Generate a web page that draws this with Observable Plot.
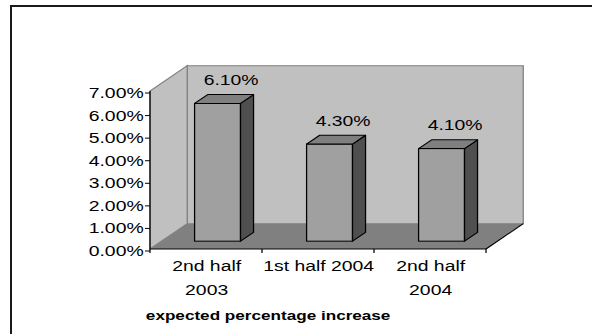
<!DOCTYPE html>
<html><head><meta charset="utf-8">
<script src="https://cdn.jsdelivr.net/npm/d3@7"></script>
<script src="https://cdn.jsdelivr.net/npm/@observablehq/plot@0.6"></script>
<style>
html,body{margin:0;padding:0;background:#fff;overflow:hidden}
#wrap{position:relative;width:592px;height:334px;overflow:hidden}
#border{position:absolute;left:10px;top:4.5px;width:700px;height:500px;border-left:2px solid #1a1a1a;border-top:2px solid #1a1a1a}
#chart{position:absolute;left:0;top:0}
</style>
</head><body><div id="wrap"><div id="border"></div><div id="chart"></div></div>
<script>
// ---- data ----
const categories = ["2nd half 2003", "1st half 2004", "2nd half 2004"];
const tickLabels = ["2nd half\n2003", "1st half 2004", "2nd half\n2004"];
const values = [0.061, 0.043, 0.041];
const yTicks = [0, 0.01, 0.02, 0.03, 0.04, 0.05, 0.06, 0.07];
const title = "expected percentage increase";

const data = categories.map((c, i) => ({category: c, value: values[i], label: tickLabels[i]}));

// ---- layout / styling constants ----
const W = 592, H = 334, STRETCH = 1.25, IW = W / STRETCH;
const DX = 29.8, DY = -25.3;      // full 3D depth offset (px, internal)
const F0 = 0.31, F1 = 0.66;       // bar front/back depth fractions
const FONT = "Liberation Sans, Arial, Helvetica, sans-serif";

const pathOf = pts => "M" + pts.map(p => p[0] + "," + p[1]).join("L") + "Z";

// walls, floor, axis line, category ticks
function scene(index, {x, y}) {
  const g = d3.create("svg:g");
  const [x0, x1] = x.range();
  const yb = y(0), yt = y(yTicks[yTicks.length - 1]);
  const step = x.step();
  g.append("path").attr("d", pathOf([[x0 + DX, yt + DY], [x1 + DX, yt + DY], [x1 + DX, yb + DY], [x0 + DX, yb + DY]]))
    .attr("fill", "#c0c0c0").attr("stroke", "#808080");
  g.append("path").attr("d", pathOf([[x0, yb], [x0, yt], [x0 + DX, yt + DY], [x0 + DX, yb + DY]]))
    .attr("fill", "#c0c0c0").attr("stroke", "#808080");
  g.append("path").attr("d", pathOf([[x0, yb], [x1, yb], [x1 + DX, yb + DY], [x0 + DX, yb + DY]]))
    .attr("fill", "#808080").attr("stroke", "none");
  const ln = (a, b, c, d) => g.append("line").attr("x1", a).attr("y1", b).attr("x2", c).attr("y2", d)
    .attr("stroke", "#000").attr("stroke-width", 1);
  ln(x0, yb, x1, yb);
  ln(x1, yb, x1 + DX, yb + DY);
  ln(x0, yb, x0, yt);
  for (let i = 0; i <= categories.length; ++i) ln(x0 + i * step, yb, x0 + i * step, yb + 4);
  return g.node();
}

// bar sides and tops
function barDepth(index, {x, y}) {
  const g = d3.create("svg:g");
  const bw = x.bandwidth();
  const ddx = (F1 - F0) * DX, ddy = (F1 - F0) * DY;
  categories.forEach((c, i) => {
    const xl = x(c) + F0 * DX, xr = xl + bw;
    const yt = y(values[i]) + F0 * DY, y0 = y(0) + F0 * DY;
    g.append("path").attr("d", pathOf([[xr, yt], [xr + ddx, yt + ddy], [xr + ddx, y0 + ddy], [xr, y0]]))
      .attr("fill", "#4f4f4f").attr("stroke", "#000").attr("stroke-linejoin", "round");
    g.append("path").attr("d", pathOf([[xl, yt], [xr, yt], [xr + ddx, yt + ddy], [xl + ddx, yt + ddy]]))
      .attr("fill", "#7f7f7f").attr("stroke", "#000").attr("stroke-linejoin", "round");
  });
  return g.node();
}

const svg = Plot.plot({
  width: IW, height: H,
  marginLeft: 120, marginRight: IW - 388.8, marginTop: 91, marginBottom: 85,
  style: {fontFamily: FONT, fontSize: "15.5px", color: "#000", background: "transparent"},
  x: {type: "band", domain: categories, paddingInner: 0.59, paddingOuter: 0.295, round: false, axis: null},
  y: {domain: [0, 0.07], axis: null, label: null},
  marks: [
    scene,
    Plot.barY(data, {x: "category", y: "value", fill: "#a0a0a0", stroke: "#000", strokeWidth: 1,
      dx: F0 * DX, dy: F0 * DY}),
    barDepth,
    Plot.axisY(yTicks, {tickFormat: d3.format(".2%"), tickSize: 4, tickPadding: 1.6, fontSize: 15.5,
      stroke: "#000", fill: "#000", dy: 1.5, label: null}),
    Plot.text(data, {x: "category", y: "value", text: d => d3.format(".2%")(d.value),
      dx: 19.6, dy: -31.7, fontSize: 15.5, fill: "#000"}),
    Plot.text(data, {x: "category", text: "label", frameAnchor: "bottom", lineAnchor: "top",
      lineHeight: 1.56, dy: 4.5, fontSize: 15.5, fill: "#000"}),
    Plot.text([title], {frameAnchor: "bottom", text: d => d, dx: -40.4, dy: 70,
      fontWeight: "bold", fontSize: 13.7, fill: "#000"})
  ]
});
svg.setAttribute("width", W);
svg.setAttribute("height", H);
svg.setAttribute("viewBox", `0 0 ${IW} ${H}`);
svg.setAttribute("preserveAspectRatio", "none");
svg.style.width = W + "px";
svg.style.height = H + "px";
svg.style.maxWidth = "none";
svg.style.background = "transparent";
svg.style.display = "block";
document.getElementById("chart").appendChild(svg);
</script>
</body></html>
